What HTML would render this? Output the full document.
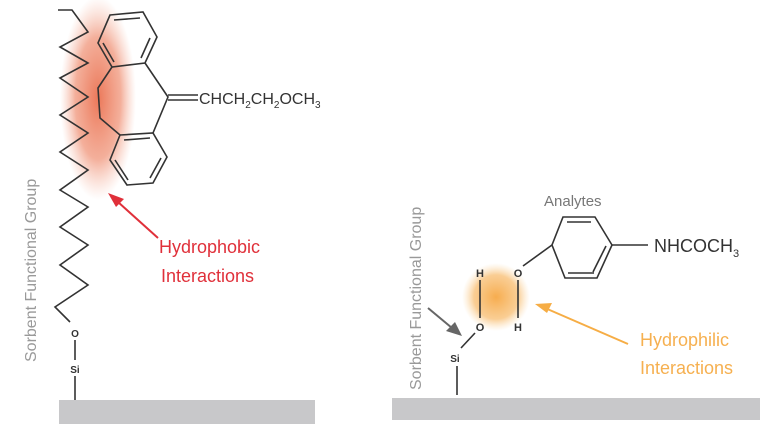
<!DOCTYPE html>
<html><head><style>
html,body{margin:0;padding:0;background:#fff;}
svg{display:block;}
text{font-family:"Liberation Sans",sans-serif;}
</style></head><body>
<svg width="775" height="448" viewBox="0 0 775 448" xmlns="http://www.w3.org/2000/svg">
<defs>
<radialGradient id="rg" cx="50%" cy="50%" r="50%">
<stop offset="0" stop-color="#e8603c" stop-opacity="0.85"/>
<stop offset="0.6" stop-color="#ec7a58" stop-opacity="0.6"/>
<stop offset="1" stop-color="#f4a890" stop-opacity="0"/>
</radialGradient>
<radialGradient id="og" cx="50%" cy="50%" r="50%">
<stop offset="0" stop-color="#f6a845" stop-opacity="0.95"/>
<stop offset="0.65" stop-color="#f8bd70" stop-opacity="0.75"/>
<stop offset="1" stop-color="#fbd9a8" stop-opacity="0"/>
</radialGradient>
</defs>
<!-- left panel -->
<ellipse cx="98" cy="98" rx="38" ry="102" fill="url(#rg)"/>
<rect x="59" y="400" width="256" height="24" fill="#c8c8ca"/>
<g stroke="#333" stroke-width="1.6" fill="none">
<polyline points="58,10 72,10 88,32 60,47 88,63 60,78 88,97 60,115 88,133 60,152 88,170 60,190 88,207 60,227 88,245 60,265 88,285 55,307 70,322"/>
<line x1="75" y1="340" x2="75" y2="360"/>
<line x1="75" y1="376" x2="75" y2="400"/>
<polygon points="110,15 143,12 157,37 145,63 112,67 98,43"/>
<line x1="114" y1="20" x2="140" y2="18"/><line x1="150" y1="38" x2="141" y2="58"/><line x1="103" y1="43" x2="114" y2="62"/>
<polygon points="120,135 153,133 167,157 153,183 127,185 110,160"/>
<line x1="124" y1="140" x2="150" y2="138"/><line x1="161" y1="158" x2="150" y2="178"/><line x1="115" y1="160" x2="128" y2="180"/>
<polyline points="145,63 168,97 153,133"/>
<polyline points="112,67 98,88 100,118 120,135"/>
<line x1="168" y1="95" x2="198" y2="95"/><line x1="168" y1="100" x2="198" y2="100"/>
</g>
<text x="199" y="104" font-size="16" fill="#333">CHCH<tspan font-size="10" dy="4">2</tspan><tspan dy="-4">CH</tspan><tspan font-size="10" dy="4">2</tspan><tspan dy="-4">OCH</tspan><tspan font-size="10" dy="4">3</tspan></text>
<text x="75" y="337" font-size="10" font-weight="bold" fill="#333" text-anchor="middle">O</text>
<text x="75" y="373" font-size="10" font-weight="bold" fill="#333" text-anchor="middle">Si</text>
<text transform="translate(36,362) rotate(-90)" font-size="16" fill="#999">Sorbent Functional Group</text>
<line x1="158" y1="238" x2="118" y2="202" stroke="#e0303a" stroke-width="2"/>
<polygon points="108,193 124,199 116,207" fill="#e0303a"/>
<text x="159" y="253" font-size="18" fill="#e0303a">Hydrophobic</text>
<text x="161" y="282" font-size="18" fill="#e0303a">Interactions</text>
<!-- right panel -->
<circle cx="496" cy="297" r="34" fill="url(#og)"/>
<rect x="392" y="398" width="368" height="22" fill="#c8c8ca"/>
<g stroke="#333" stroke-width="1.6" fill="none">
<polygon points="563,217 595,217 612,245 597,278 565,278 552,245"/>
<line x1="567" y1="222" x2="591" y2="222"/><line x1="606" y1="246" x2="593" y2="272"/><line x1="568" y1="273" x2="594" y2="273"/>
<line x1="523" y1="266" x2="552" y2="245"/>
<line x1="612" y1="245" x2="648" y2="245"/>
<line x1="480" y1="280" x2="480" y2="318"/>
<line x1="518" y1="280" x2="518" y2="318"/>
<line x1="475" y1="333" x2="461" y2="348"/>
<line x1="457" y1="366" x2="457" y2="395"/>
</g>
<text x="480" y="277" font-size="11" font-weight="bold" fill="#333" text-anchor="middle">H</text>
<text x="518" y="277" font-size="11" font-weight="bold" fill="#333" text-anchor="middle">O</text>
<text x="480" y="331" font-size="11" font-weight="bold" fill="#333" text-anchor="middle">O</text>
<text x="518" y="331" font-size="11" font-weight="bold" fill="#333" text-anchor="middle">H</text>
<text x="455" y="362" font-size="10" font-weight="bold" fill="#333" text-anchor="middle">Si</text>
<text x="654" y="252" font-size="18" fill="#333">NHCOCH<tspan font-size="11" dy="5">3</tspan></text>
<text x="544" y="206" font-size="15" fill="#777">Analytes</text>
<text transform="translate(421,390) rotate(-90)" font-size="16" fill="#999">Sorbent Functional Group</text>
<line x1="428" y1="308" x2="452" y2="328" stroke="#666" stroke-width="2"/>
<polygon points="462,336 446,331 455,322" fill="#666"/>
<line x1="628" y1="344" x2="545" y2="308" stroke="#f6ad45" stroke-width="2"/>
<polygon points="535,304 552,303 547,313" fill="#f6ad45"/>
<text x="640" y="346" font-size="18" fill="#f6b050">Hydrophilic</text>
<text x="640" y="374" font-size="18" fill="#f6b050">Interactions</text>
</svg>
</body></html>
